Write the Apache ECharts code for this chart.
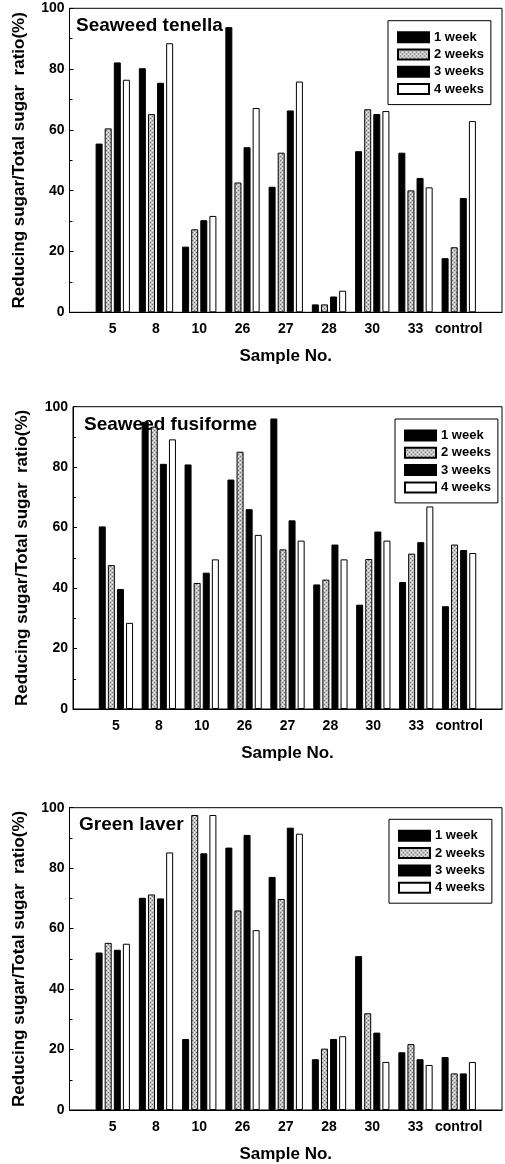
<!DOCTYPE html>
<html>
<head>
<meta charset="utf-8">
<script src="https://cdn.jsdelivr.net/npm/echarts@6.0.0/dist/echarts.min.js"></script>
<style>
  html, body { margin: 0; padding: 0; background: #fff; }
  #chart { width: 505px; height: 1164px; }
</style>
</head>
<body>
<div id="chart"></div>
<script>
// sample numbers on the x axis
const categories = ['5', '8', '10', '26', '27', '28', '30', '33', 'control'];
const weekNames = ['1 week', '2 weeks', '3 weeks', '4 weeks'];
const yTicks = [0, 20, 40, 60, 80, 100];

// Seaweed tenella
const tenella1w = [55.5, 80.3, 21.6, 93.8, 41.3, 2.6, 53.0, 52.5, 17.8];
const tenella2w = [60.5, 65.2, 27.3, 42.7, 52.5, 2.6, 66.8, 40.1, 21.4];
const tenella3w = [82.2, 75.5, 30.3, 54.3, 66.4, 5.2, 65.2, 44.2, 37.6];
const tenella4w = [76.5, 88.5, 31.7, 67.2, 75.9, 7.1, 66.2, 41.1, 62.9];

// Seaweed fusiforme
const fusiforme1w = [60.4, 95.0, 80.9, 75.9, 96.1, 41.2, 34.5, 42.0, 34.0];
const fusiforme2w = [47.6, 93.4, 41.7, 85.1, 52.8, 42.8, 49.6, 51.4, 54.4];
const fusiforme3w = [39.7, 81.1, 45.1, 66.1, 62.4, 54.4, 58.7, 55.2, 52.6];
const fusiforme4w = [28.5, 89.2, 49.5, 57.6, 55.7, 49.5, 55.7, 67.0, 51.6];

// Green laver
const laver1w = [52.1, 70.2, 23.5, 86.8, 77.1, 16.8, 50.9, 19.1, 17.5];
const laver2w = [55.3, 71.3, 97.6, 66.0, 69.8, 20.3, 32.0, 21.8, 12.1];
const laver3w = [53.0, 70.0, 84.9, 91.0, 93.4, 23.5, 25.6, 16.8, 12.1];
const laver4w = [55.0, 85.2, 97.6, 59.5, 91.4, 24.4, 15.9, 14.9, 15.9];

const FONT = '"Liberation Sans", Arial, sans-serif';

// dotted grey fill for the "2 weeks" bars
function makeDots() {
  const c = document.createElement('canvas');
  c.width = 4; c.height = 4;
  const g = c.getContext('2d');
  g.fillStyle = '#c4c4c4';
  g.fillRect(0, 0, 4, 4);
  g.fillStyle = '#6e6e6e';
  g.fillRect(0, 0, 1, 1);
  g.fillRect(2, 2, 1, 1);
  g.fillStyle = '#f2f2f2';
  g.fillRect(2, 0, 1, 1);
  g.fillRect(0, 2, 1, 1);
  return c;
}
const dots = makeDots();

const barStyles = [
  { color: '#000', borderColor: '#000', borderWidth: 1 },
  { color: { image: dots, repeat: 'repeat' }, borderColor: '#000', borderWidth: 1 },
  { color: '#000', borderColor: '#000', borderWidth: 1 },
  { color: '#fff', borderColor: '#000', borderWidth: 1 }
];

// one blank slot on each side so samples sit on ticks 1..9 of a 0..10 axis
const padded = ['', ...categories, ''];
const pad = arr => [null, ...arr, null];

const panels = [
  { title: 'Seaweed tenella', data: [tenella1w, tenella2w, tenella3w, tenella4w],
    grid: { left: 69.5, top: 8.3, width: 434, height: 304 },
    titlePos: { left: 76, top: 16.5 },
    legendPos: { left: 388, top: 20.7 } },
  { title: 'Seaweed fusiforme', data: [fusiforme1w, fusiforme2w, fusiforme3w, fusiforme4w],
    grid: { left: 73, top: 406.7, width: 438, height: 302.3 },
    titlePos: { left: 84, top: 415 },
    legendPos: { left: 395, top: 419 } },
  { title: 'Green laver', data: [laver1w, laver2w, laver3w, laver4w],
    grid: { left: 69.5, top: 807.7, width: 435.5, height: 302.3 },
    titlePos: { left: 79, top: 815 },
    legendPos: { left: 389, top: 819.3 } }
];

const option = {
  animation: false,
  backgroundColor: '#fff',
  textStyle: { fontFamily: FONT, color: '#000' },
  title: [], legend: [], grid: [], xAxis: [], yAxis: [], series: []
};

panels.forEach((p, i) => {
  option.grid.push(Object.assign({ show: true, borderColor: '#000', borderWidth: 1,
    backgroundColor: 'transparent' }, p.grid));
  option.title.push(Object.assign({
    text: p.title, padding: 0, z: 0,
    textStyle: { fontFamily: FONT, fontSize: 19, fontWeight: 'bold', color: '#000' }
  }, p.titlePos));
  option.legend.push(Object.assign({
    orient: 'vertical',
    data: weekNames,
    icon: 'rect',
    itemWidth: 31, itemHeight: 10, itemGap: 4.3,
    padding: [10, 7, 9, 9],
    borderColor: '#000', borderWidth: 1,
    backgroundColor: '#fff',
    selectedMode: false,
    textStyle: { fontFamily: FONT, fontSize: 13, fontWeight: 'bold', color: '#000' }
  }, p.legendPos));
  option.xAxis.push({
    type: 'category', gridIndex: i, data: padded, boundaryGap: false,
    axisLine: { lineStyle: { color: '#000', width: 1 } },
    axisTick: { show: false },
    axisLabel: { interval: 0, color: '#000', fontFamily: FONT, fontSize: 14, fontWeight: 'bold', margin: 10 },
    splitLine: { show: false },
    name: 'Sample No.', nameLocation: 'middle', nameGap: 36,
    nameTextStyle: { fontFamily: FONT, fontSize: 17, fontWeight: 'bold', color: '#000' }
  });
  option.yAxis.push({
    type: 'value', gridIndex: i, min: yTicks[0], max: yTicks[yTicks.length - 1], interval: 20,
    axisLine: { show: true, lineStyle: { color: '#000', width: 1 } },
    axisTick: { show: true, inside: true, length: 4, lineStyle: { color: '#000' } },
    minorTick: { show: true, splitNumber: 2, length: 3, lineStyle: { color: '#000' } },
    axisLabel: { color: '#000', fontFamily: FONT, fontSize: 14, fontWeight: 'bold', margin: 5 },
    splitLine: { show: false },
    name: 'Reducing sugar/Total sugar  ratio(%)', nameLocation: 'middle', nameGap: 42,
    nameTextStyle: { fontFamily: FONT, fontSize: 17, fontWeight: 'bold', color: '#000' }
  });
  p.data.forEach((vals, k) => {
    option.series.push({
      name: weekNames[k], type: 'bar', xAxisIndex: i, yAxisIndex: i,
      data: pad(vals), barWidth: 7, barGap: '30%', z: 2,
      itemStyle: barStyles[k]
    });
  });
});

const chart = echarts.init(document.getElementById('chart'), null, { renderer: 'canvas' });
chart.setOption(option);
window.addEventListener('resize', () => chart.resize());
</script>
</body>
</html>
